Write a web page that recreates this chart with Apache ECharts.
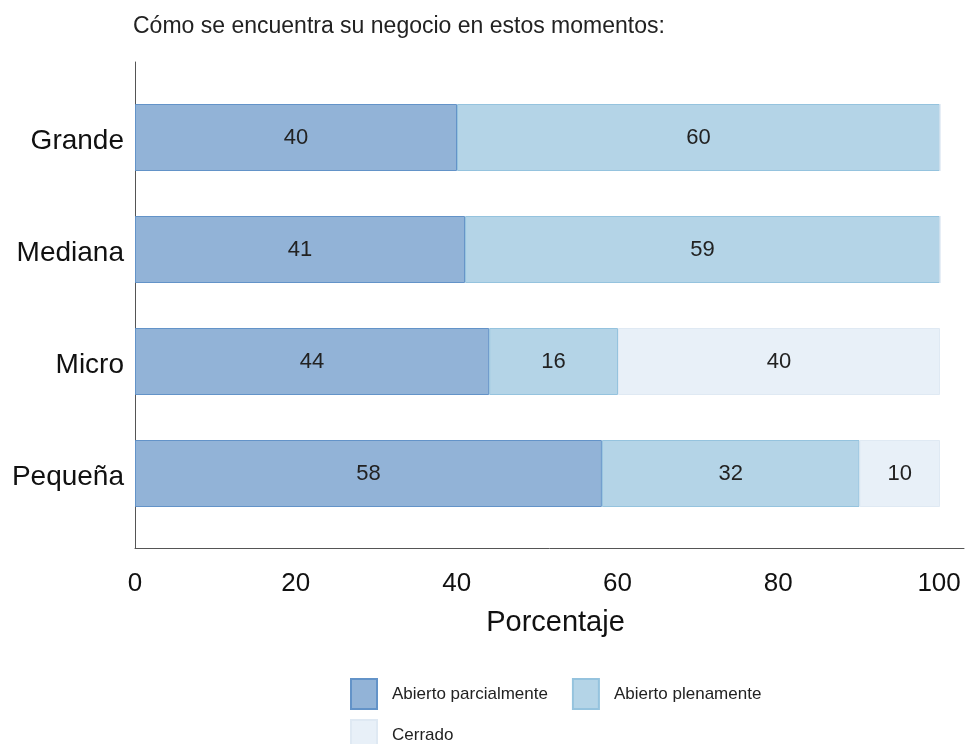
<!DOCTYPE html>
<html>
<head>
<meta charset="utf-8">
<title>Cómo se encuentra su negocio</title>
<script src="https://cdn.jsdelivr.net/npm/echarts@6/dist/echarts.min.js"></script>
<style>
  html, body { margin: 0; padding: 0; background: #fff; }
  #chart { width: 967px; height: 744px; }
</style>
</head>
<body>
<div id="chart"></div>
<script>
// data
var categories = ['Grande', 'Mediana', 'Micro', 'Pequeña'];
var parcial = [40, 41, 44, 58];
var pleno = [60, 59, 16, 32];
var cerrado = [0, 0, 40, 10];
var xTicks = [0, 20, 40, 60, 80, 100];

var font = '"Liberation Sans", Arial, sans-serif';

function barLabel(p) {
  return p.value > 0 ? p.value : '';
}

function mkSeries(name, data, fill, border) {
  return {
    name: name,
    type: 'bar',
    stack: 'total',
    xAxisIndex: 1,
    yAxisIndex: 1,
    barWidth: 67,
    data: data,
    itemStyle: { color: fill, borderColor: border, borderWidth: 1 },
    label: {
      show: true,
      position: 'inside',
      formatter: barLabel,
      color: '#222',
      fontSize: 22,
      fontFamily: font
    }
  };
}

var chart = echarts.init(document.getElementById('chart'));
chart.setOption({
  animation: false,
  textStyle: { fontFamily: font },
  title: {
    text: 'Cómo se encuentra su negocio en estos momentos:',
    left: 128,
    top: 10,
    textStyle: { fontSize: 23, fontWeight: 'normal', color: '#222', fontFamily: font }
  },
  legend: [
    {
      data: ['Abierto parcialmente', 'Abierto plenamente'],
      left: 350,
      top: 678,
      padding: 0,
      icon: 'rect',
      itemWidth: 26,
      itemHeight: 30,
      itemGap: 24,
      textStyle: { fontSize: 17, color: '#222', padding: [0, 0, 0, 10] }
    },
    {
      data: ['Cerrado'],
      left: 350,
      top: 719,
      padding: 0,
      icon: 'rect',
      itemWidth: 26,
      itemHeight: 30,
      textStyle: { fontSize: 17, color: '#222', padding: [0, 0, 0, 10] }
    }
  ],
  grid: [
    // frame with the axes
    { left: 135, top: 62, width: 830, height: 486 },
    // bars
    { left: 135, top: 81.5, width: 805, height: 448 }
  ],
  xAxis: [
    {
      type: 'value',
      gridIndex: 0,
      min: 0,
      max: 103.1,
      interval: 20,
      axisLine: { show: true, onZero: false, lineStyle: { color: '#555', width: 1 } },
      axisTick: { show: false },
      splitLine: { show: false },
      axisLabel: {
        margin: 23,
        fontSize: 26,
        color: '#111',
        formatter: function (v) { return xTicks.indexOf(v) >= 0 ? v : ''; }
      },
      name: 'Porcentaje',
      nameLocation: 'middle',
      nameGap: 60,
      nameTextStyle: { fontSize: 29, color: '#111', padding: [0, 0, 0, 12] }
    },
    {
      type: 'value',
      gridIndex: 1,
      min: 0,
      max: 100,
      show: false
    }
  ],
  yAxis: [
    {
      type: 'value',
      gridIndex: 0,
      min: 0,
      max: 1,
      axisLine: { show: true, onZero: false, lineStyle: { color: '#555', width: 1 } },
      axisTick: { show: false },
      axisLabel: { show: false },
      splitLine: { show: false }
    },
    {
      type: 'category',
      gridIndex: 1,
      inverse: true,
      data: categories,
      axisLine: { show: false },
      axisTick: { show: false },
      axisLabel: {
        margin: 11,
        formatter: function (v) { return '{c|' + v + '}'; },
        rich: {
          c: { fontSize: 28, color: '#111', fontFamily: font, padding: [8, 0, 0, 0] }
        }
      }
    }
  ],
  series: [
    mkSeries('Abierto parcialmente', parcial, '#92b3d7', '#6393c8'),
    mkSeries('Abierto plenamente', pleno, '#b4d4e7', '#95c3de'),
    mkSeries('Cerrado', cerrado, '#e8f0f8', '#dfe9f3')
  ]
});
</script>
</body>
</html>
